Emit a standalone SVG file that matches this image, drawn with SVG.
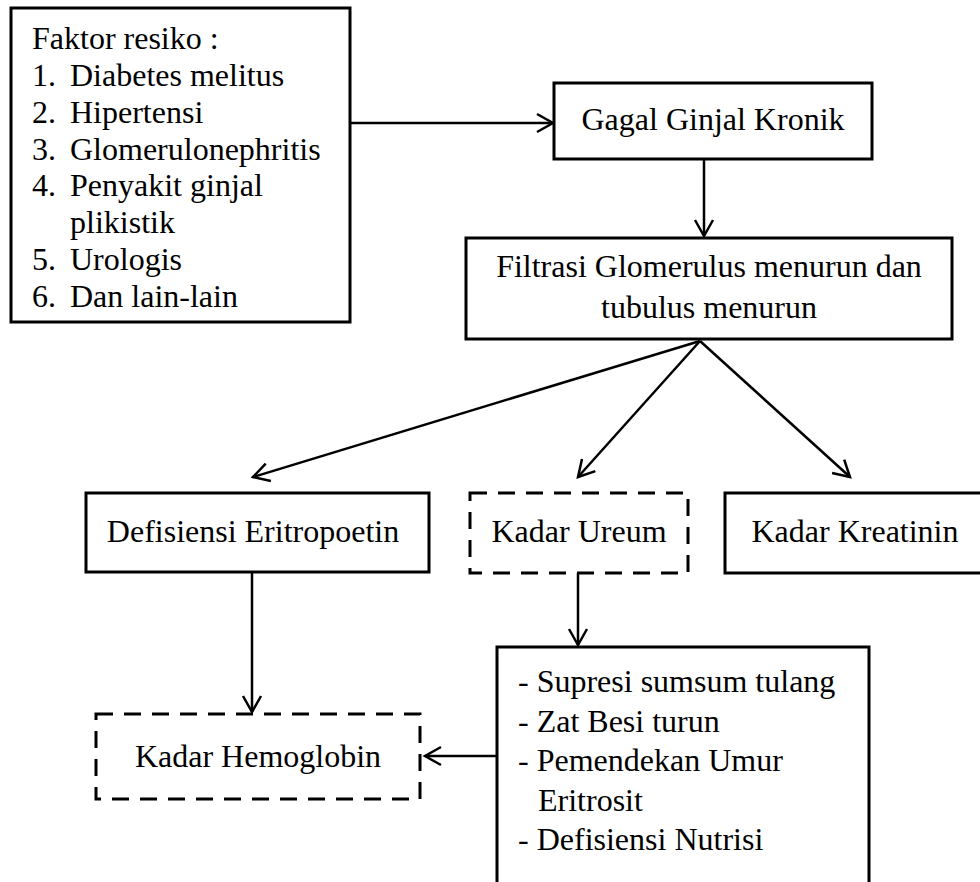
<svg xmlns="http://www.w3.org/2000/svg" width="980" height="882" viewBox="0 0 980 882">
<style>
  .box { fill: #fff; stroke: #000; stroke-width: 3; }
  .dash { fill: #fff; stroke: #000; stroke-width: 3; stroke-dasharray: 17 11; }
  .t { font-family: "Liberation Serif", "Times New Roman", serif; font-size: 32px; fill: #000; }
  .c { text-anchor: middle; }
  .con { fill: none; stroke: #000; stroke-width: 2.5; marker-end: url(#arr); }
</style>
<defs>
  <marker id="arr" markerUnits="userSpaceOnUse" viewBox="-20 -12 24 24" markerWidth="24" markerHeight="24" refX="0" refY="0" orient="auto" overflow="visible">
    <path d="M -16 -9 L 0 0 L -16 9" fill="none" stroke="#000" stroke-width="2.5"/>
  </marker>
</defs>
<rect width="980" height="882" fill="#fff"/>

<g id="connectors">
  <line class="con" x1="350" y1="123" x2="553" y2="123"/>
  <line class="con" x1="704" y1="159" x2="704" y2="236"/>
  <line class="con" x1="700" y1="341" x2="253" y2="477"/>
  <line class="con" x1="700" y1="341" x2="578" y2="477"/>
  <line class="con" x1="700" y1="341" x2="850" y2="477"/>
  <line class="con" x1="252" y1="572" x2="252" y2="712"/>
  <line class="con" x1="578" y1="573" x2="578" y2="645"/>
  <line class="con" x1="497" y1="756" x2="425" y2="756"/>
</g>

<g id="faktor">
  <rect class="box" x="11" y="8" width="339" height="314"/>
  <text class="t" x="32" y="49">Faktor resiko :</text>
  <text class="t" x="32" y="86">1.</text><text class="t" x="70" y="86">Diabetes melitus</text>
  <text class="t" x="32" y="123">2.</text><text class="t" x="70" y="123">Hipertensi</text>
  <text class="t" x="32" y="160">3.</text><text class="t" x="70" y="160">Glomerulonephritis</text>
  <text class="t" x="32" y="196">4.</text><text class="t" x="70" y="196">Penyakit ginjal</text>
  <text class="t" x="70" y="233">plikistik</text>
  <text class="t" x="32" y="270">5.</text><text class="t" x="70" y="270">Urologis</text>
  <text class="t" x="32" y="307">6.</text><text class="t" x="70" y="307">Dan lain-lain</text>
</g>

<g id="gagal">
  <rect class="box" x="554" y="83" width="318" height="76"/>
  <text class="t c" x="713" y="130">Gagal Ginjal Kronik</text>
</g>

<g id="filtrasi">
  <rect class="box" x="466" y="238" width="486" height="101"/>
  <text class="t c" x="709" y="277">Filtrasi Glomerulus menurun dan</text>
  <text class="t c" x="709" y="318">tubulus menurun</text>
</g>

<g id="defisiensi">
  <rect class="box" x="86" y="493" width="343" height="79"/>
  <text class="t c" x="253" y="542">Defisiensi Eritropoetin</text>
</g>

<g id="ureum">
  <rect class="dash" x="470" y="493" width="218" height="80"/>
  <text class="t c" x="579" y="542">Kadar Ureum</text>
</g>

<g id="kreatinin">
  <rect class="box" x="725" y="493" width="280" height="80"/>
  <text class="t c" x="855" y="542">Kadar Kreatinin</text>
</g>

<g id="hemoglobin">
  <rect class="dash" x="96" y="714" width="324" height="85"/>
  <text class="t c" x="258" y="767">Kadar Hemoglobin</text>
</g>

<g id="supresi">
  <rect class="box" x="497" y="647" width="372" height="260"/>
  <text class="t" x="518" y="692">- Supresi sumsum tulang</text>
  <text class="t" x="518" y="732">- Zat Besi turun</text>
  <text class="t" x="518" y="771">- Pemendekan Umur</text>
  <text class="t" x="538" y="811">Eritrosit</text>
  <text class="t" x="518" y="850">- Defisiensi Nutrisi</text>
</g>
</svg>
